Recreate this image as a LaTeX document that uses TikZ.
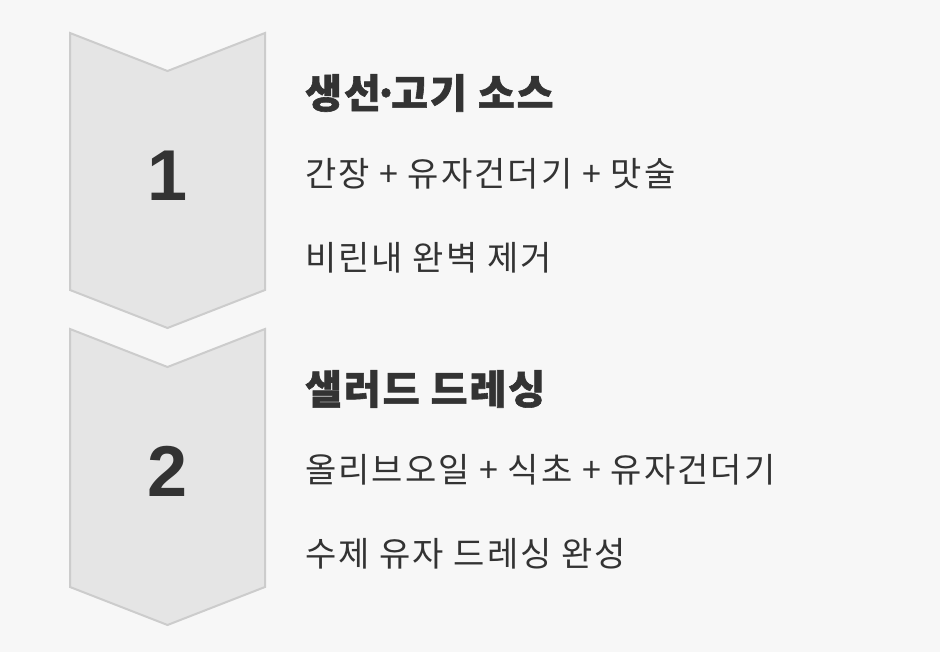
\documentclass[tikz,border=0pt]{standalone}
\usepackage{fontspec}
\setmainfont{Noto Sans CJK KR}
\newfontfamily\heavy[FakeBold=1.5]{Noto Sans CJK KR Black}
\newfontfamily\digits{Liberation Sans}
\usepackage{xcolor}
\definecolor{bgGray}{HTML}{F7F7F7}
\definecolor{arrowFill}{HTML}{E5E5E5}
\definecolor{arrowLine}{HTML}{CCCCCC}
\definecolor{textDark}{HTML}{333333}
\newcommand*{\chevL}{70}
\newcommand*{\chevR}{265}
\newcommand*{\chevM}{167.5}
\newcommand*{\tightdot}{\kern-7pt·\kern-7pt}

\begin{document}
\begin{tikzpicture}[x=1pt,y=-1pt,
    stepnum/.style={font=\digits\bfseries\fontsize{72}{72}\selectfont,text=textDark,inner sep=0pt},
    steptitle/.style={font=\heavy\fontsize{40}{40}\selectfont\addfontfeature{LetterSpace=5},text=textDark,anchor=west,inner sep=0pt},
    stepline/.style={font=\fontsize{34}{34}\selectfont\addfontfeature{LetterSpace=6},text=textDark,anchor=west,inner sep=0pt}]
    \fill [bgGray] (0,0) rectangle (940,652);
    \useasboundingbox (0,0) rectangle (940,652);

    % chevrons
    \foreach \t/\b in {33/290, 329/587} {
      \filldraw [fill=arrowFill,draw=arrowLine,line width=2pt,line join=miter]
        (\chevL,\t) -- (\chevM,\t+38) -- (\chevR,\t) -- (\chevR,\b)
        -- (\chevM,\b+38) -- (\chevL,\b) -- cycle;
    }

    \node [stepnum] (num1) at (\chevM,176) {1};
    \node [stepnum] (num2) at (\chevM,471) {2};

    \node [steptitle] (title1) at (305,93) {생선\tightdot 고기 소스};
    \node [stepline] (item1a) at (305,174) {간장 + 유자건더기 + 맛술};
    \node [stepline] (item1b) at (305,258) {비린내 완벽 제거};

    \node [steptitle] (title2) at (305,389) {샐러드 드레싱};
    \node [stepline] (item2a) at (305,470) {올리브오일 + 식초 + 유자건더기};
    \node [stepline] (item2b) at (305,554) {수제 유자 드레싱 완성};
  \end{tikzpicture}
\end{document}
